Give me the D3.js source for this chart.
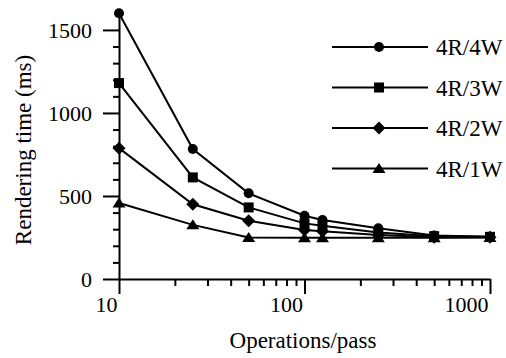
<!DOCTYPE html>
<html>
<head>
<meta charset="utf-8">
<script src="https://cdn.jsdelivr.net/npm/d3@7"></script>
<style>
  body { margin: 0; background: #fff; }
  svg text { font-family: "Liberation Serif", "Times New Roman", serif; fill: #000; }
</style>
</head>
<body>
<div id="chart"></div>
<script>
// operations per pass (x) and rendering time in ms per configuration
const ops = [10, 25, 50, 100, 125, 250, 500, 1000];
const r4w4 = [1600, 783, 516, 381, 355, 305, 262, 255];
const r4w3 = [1180, 612, 431, 335, 320, 280, 258, 254];
const r4w2 = [788, 450, 351, 295, 288, 265, 252, 251];
const r4w1 = [458, 326, 250, 249, 249, 249, 249, 250];
const seriesNames = ['4R/4W', '4R/3W', '4R/2W', '4R/1W'];
const yMajor = [0, 500, 1000, 1500];
const xMajor = [10, 100, 1000];

const width = 506, height = 358;
const serif = '"Liberation Serif", "Times New Roman", serif';

// custom marker shapes (size ignored, fixed pixel sizes)
const circle = { draw(ctx) { ctx.moveTo(5, 0); ctx.arc(0, 0, 5, 0, 2 * Math.PI); } };
const square = { draw(ctx) { ctx.rect(-5, -5, 10, 10); } };
const diamond = { draw(ctx) { ctx.moveTo(0, -6.5); ctx.lineTo(6.5, 0); ctx.lineTo(0, 6.5); ctx.lineTo(-6.5, 0); ctx.closePath(); } };
const triangle = { draw(ctx) { ctx.moveTo(0, -5.5); ctx.lineTo(6.5, 4.5); ctx.lineTo(-6.5, 4.5); ctx.closePath(); } };

const series = [
  { name: seriesNames[0], values: r4w4, shape: circle },
  { name: seriesNames[1], values: r4w3, shape: square },
  { name: seriesNames[2], values: r4w2, shape: diamond },
  { name: seriesNames[3], values: r4w1, shape: triangle }
];

const svg = d3.select('#chart')
  .append('svg')
  .attr('width', width)
  .attr('height', height)
  .attr('font-family', serif)
  .attr('font-size', 23);

const x = d3.scaleLog().domain([10, 1000]).range([119, 490]);
const y = d3.scaleLinear().domain([0, 1620]).range([279, 10]);

// minor ticks
const yMinor = d3.range(0, 1600, 100).filter(v => v % 500 !== 0);
svg.append('g')
  .attr('transform', `translate(${x(10)},0)`)
  .call(d3.axisLeft(y).tickValues(yMinor).tickSize(6).tickFormat(''))
  .call(g => g.select('.domain').remove());

const xMinor = [];
[10, 100].forEach(d => { for (let k = 2; k <= 9; k++) xMinor.push(d * k); });
svg.append('g')
  .attr('transform', `translate(0,${y(0)})`)
  .call(d3.axisBottom(x).tickValues(xMinor).tickSize(7).tickFormat(''))
  .call(g => g.select('.domain').remove());

// Y axis
svg.append('g')
  .attr('transform', `translate(${x(10)},0)`)
  .call(d3.axisLeft(y).tickValues(yMajor).tickSize(16).tickSizeOuter(0).tickPadding(11).tickFormat(d3.format('d')))
  .call(g => g.selectAll('text').attr('dy', '0.34em'));

// X axis
svg.append('g')
  .attr('transform', `translate(0,${y(0)})`)
  .call(d3.axisBottom(x).tickValues(xMajor).tickSize(15).tickSizeOuter(0).tickPadding(2).tickFormat(d3.format('d')))
  .call(g => g.selectAll('text').attr('text-anchor', 'end').attr('dx', '-2'));

svg.selectAll('g').attr('font-family', serif).attr('font-size', 22);
svg.selectAll('.domain, .tick line').attr('stroke', '#000').attr('stroke-width', 2);
svg.selectAll('.tick text').attr('fill', '#000');

// axis titles
svg.append('text')
  .attr('x', 303)
  .attr('y', 348)
  .attr('text-anchor', 'middle')
  .text('Operations/pass');

svg.append('text')
  .attr('transform', 'translate(31,150) rotate(-90)')
  .attr('text-anchor', 'middle')
  .text('Rendering time (ms)');

// lines and markers
const line = d3.line()
  .x((d, i) => x(ops[i]))
  .y(d => y(d));

series.forEach(s => {
  svg.append('path')
    .datum(s.values)
    .attr('fill', 'none')
    .attr('stroke', '#000')
    .attr('stroke-width', 2)
    .attr('d', line);

  svg.append('g')
    .selectAll('path')
    .data(s.values)
    .join('path')
    .attr('transform', (d, i) => `translate(${x(ops[i])},${y(d)})`)
    .attr('d', d3.symbol().type(s.shape))
    .attr('fill', '#000');
});

// legend
const legend = svg.append('g')
  .attr('font-size', 23)
  .selectAll('g')
  .data(series)
  .join('g')
  .attr('transform', (d, i) => `translate(0,${47 + i * 40.5})`);

legend.append('line')
  .attr('x1', 332).attr('x2', 428)
  .attr('stroke', '#000').attr('stroke-width', 2);

legend.append('path')
  .attr('transform', 'translate(379,0)')
  .attr('d', d => d3.symbol().type(d.shape)())
  .attr('fill', '#000');

legend.append('text')
  .attr('x', 436)
  .attr('y', 8)
  .text(d => d.name);
</script>
</body>
</html>
